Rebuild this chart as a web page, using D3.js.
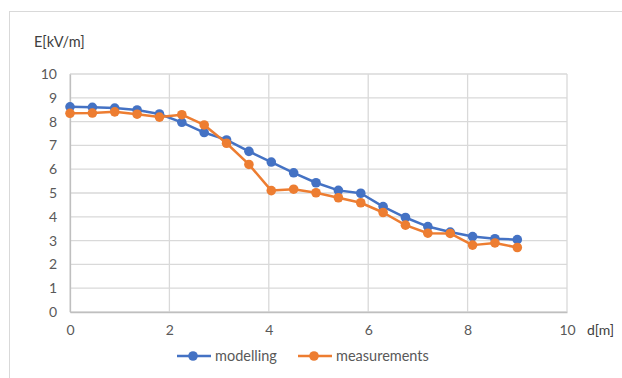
<!DOCTYPE html>
<html>
<head>
<meta charset="utf-8">
<script src="https://cdn.jsdelivr.net/npm/d3@7"></script>
<style>
  body { margin: 0; background: #fff; }
  text { font-family: Lato, "Open Sans", sans-serif; }
</style>
</head>
<body>
<div id="chart"></div>
<script>
// data
var distance = [0, 0.45, 0.9, 1.35, 1.8, 2.25, 2.7, 3.15, 3.6, 4.05, 4.5, 4.95, 5.4, 5.85, 6.3, 6.75, 7.2, 7.65, 8.1, 8.55, 9.0];
var modelling = [8.62, 8.6, 8.57, 8.49, 8.32, 7.97, 7.54, 7.23, 6.75, 6.3, 5.85, 5.43, 5.11, 4.99, 4.43, 3.97, 3.59, 3.36, 3.17, 3.08, 3.04];
var measurements = [8.35, 8.36, 8.41, 8.31, 8.19, 8.29, 7.86, 7.09, 6.2, 5.1, 5.16, 5.01, 4.8, 4.59, 4.18, 3.65, 3.31, 3.3, 2.81, 2.9, 2.71];
var xTicks = [0, 2, 4, 6, 8, 10];
var yTicks = [0, 1, 2, 3, 4, 5, 6, 7, 8, 9, 10];
var seriesNames = ["modelling", "measurements"];
var seriesColors = ["#4472C4", "#ED7D31"];

function setUpChart() {
  var svgWidth = 622;
  var svgHeight = 378;
  var margin = { top: 74, right: 55, bottom: 66, left: 70 };
  var width = svgWidth - margin.left - margin.right;
  var height = svgHeight - margin.top - margin.bottom;

  var svg = d3.select("#chart")
    .append("svg")
    .attr("width", svgWidth)
    .attr("height", svgHeight);

  // outer chart border
  svg.append("rect")
    .attr("x", 9.5)
    .attr("y", 11.5)
    .attr("width", 700)
    .attr("height", 500)
    .attr("fill", "none")
    .attr("stroke", "#d9d9d9");

  var chartGroup = svg.append("g")
    .attr("transform", `translate(${margin.left}, ${margin.top})`);

  var x = d3.scaleLinear().domain([0, 10]).range([0, width]);
  var y = d3.scaleLinear().domain([0, 10]).range([height, 0]);

  // gridlines
  chartGroup.append("g")
    .selectAll("line.h")
    .data(yTicks)
    .enter()
    .append("line")
    .attr("x1", 0)
    .attr("x2", width)
    .attr("y1", d => y(d))
    .attr("y2", d => y(d))
    .attr("stroke", "#d9d9d9")
    .attr("stroke-width", 1.3);

  chartGroup.append("g")
    .selectAll("line.v")
    .data(xTicks)
    .enter()
    .append("line")
    .attr("x1", d => x(d))
    .attr("x2", d => x(d))
    .attr("y1", 0)
    .attr("y2", height)
    .attr("stroke", "#d9d9d9")
    .attr("stroke-width", 1.3);

  // axes
  var bottomAxis = d3.axisBottom(x).tickValues(xTicks).tickSize(0).tickPadding(13);
  var leftAxis = d3.axisLeft(y).tickValues(yTicks).tickSize(0).tickPadding(13);

  var gx = chartGroup.append("g")
    .attr("transform", `translate(0, ${height})`)
    .call(bottomAxis);
  var gy = chartGroup.append("g").call(leftAxis);

  [gx, gy].forEach(function(g) {
    g.select(".domain").attr("stroke", "#bfbfbf").attr("stroke-width", 1.3);
    g.selectAll("text").attr("fill", "#595959").attr("font-size", "14px");
  });

  // axis titles
  svg.append("text")
    .attr("x", 34)
    .attr("y", 47)
    .attr("fill", "#404040")
    .attr("font-size", "14.5px")
    .text("E[kV/m]");

  svg.append("text")
    .attr("x", 587)
    .attr("y", 335)
    .attr("fill", "#404040")
    .attr("font-size", "14px")
    .text("d[m]");

  // series
  var allSeries = [modelling, measurements];
  var line = d3.line()
    .x((d, i) => x(distance[i]))
    .y(d => y(d));

  allSeries.forEach(function(values, s) {
    chartGroup.append("path")
      .datum(values)
      .attr("fill", "none")
      .attr("stroke", seriesColors[s])
      .attr("stroke-width", 2.5)
      .attr("stroke-linejoin", "round")
      .attr("d", line);

    chartGroup.selectAll("circle.s" + s)
      .data(values)
      .enter()
      .append("circle")
      .attr("class", "s" + s)
      .attr("cx", (d, i) => x(distance[i]))
      .attr("cy", d => y(d))
      .attr("r", 4.8)
      .attr("fill", seriesColors[s]);
  });

  // legend
  var legendX = [177, 298];
  var legend = svg.append("g");
  seriesNames.forEach(function(name, s) {
    var lx = legendX[s];
    legend.append("line")
      .attr("x1", lx).attr("x2", lx + 34)
      .attr("y1", 356).attr("y2", 356)
      .attr("stroke", seriesColors[s])
      .attr("stroke-width", 2.5);
    legend.append("circle")
      .attr("cx", lx + 16).attr("cy", 356)
      .attr("r", 4.8)
      .attr("fill", seriesColors[s]);
    legend.append("text")
      .attr("x", lx + 38)
      .attr("y", 361)
      .attr("fill", "#595959")
      .attr("font-size", "14.5px")
      .text(name);
  });
}

setUpChart();
</script>
</body>
</html>
